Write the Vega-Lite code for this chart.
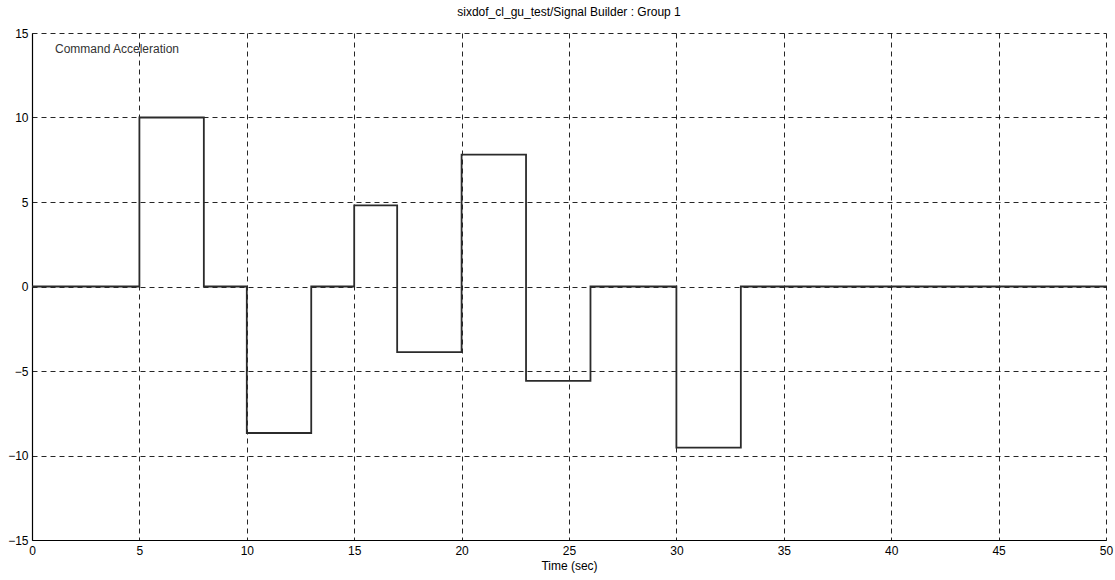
{
  "$schema": "https://vega.github.io/schema/vega-lite/v6.json",
  "width": 1074,
  "height": 507,
  "autosize": {"type": "none"},
  "padding": {"left": 32, "top": 33, "right": 9, "bottom": 40},
  "background": "white",
  "title": {
    "text": "sixdof_cl_gu_test/Signal Builder : Group 1",
    "font": "Liberation Sans",
    "fontSize": 12,
    "fontWeight": "normal",
    "color": "#000",
    "anchor": "middle",
    "offset": 8
  },
  "config": {
    "view": {"stroke": null},
    "axis": {
      "labelFont": "Liberation Sans",
      "titleFont": "Liberation Sans",
      "labelFontSize": 12,
      "titleFontSize": 12,
      "titleFontWeight": "normal",
      "labelColor": "#000",
      "titleColor": "#000",
      "domainColor": "#000",
      "domainWidth": 1.2,
      "grid": true,
      "gridColor": "#000",
      "gridDash": [5, 4],
      "gridOpacity": 0.85,
      "gridWidth": 1,
      "ticks": false
    }
  },
  "datasets": {
    "signal": [
      {"t": 0, "a": 0},
      {"t": 5, "a": 10},
      {"t": 8, "a": 0},
      {"t": 10, "a": -8.67},
      {"t": 13, "a": 0},
      {"t": 15, "a": 4.8},
      {"t": 17, "a": -3.88},
      {"t": 20, "a": 7.8},
      {"t": 23, "a": -5.58},
      {"t": 26, "a": 0},
      {"t": 30, "a": -9.53},
      {"t": 33, "a": 0},
      {"t": 50, "a": 0}
    ],
    "label": [
      {"t": 1.07, "a": 14.05, "text": "Command Acceleration"}
    ]
  },
  "layer": [
    {
      "data": {"name": "signal"},
      "mark": {"type": "line", "interpolate": "step-after", "color": "#2b2b2b", "strokeWidth": 1.8},
      "encoding": {
        "x": {
          "field": "t", "type": "quantitative",
          "scale": {"domain": [0, 50], "nice": false},
          "axis": {"values": [0,5,10,15,20,25,30,35,40,45,50], "title": "Time (sec)", "labelPadding": 5, "titlePadding": 4, "labelFlush": false}
        },
        "y": {
          "field": "a", "type": "quantitative",
          "scale": {"domain": [-15, 15], "nice": false},
          "axis": {"values": [-15,-10,-5,0,5,10,15], "title": null, "labelPadding": 4}
        }
      }
    },
    {
      "data": {"name": "label"},
      "mark": {"type": "text", "align": "left", "baseline": "middle", "font": "Liberation Sans", "fontSize": 12, "color": "#333"},
      "encoding": {
        "x": {"field": "t", "type": "quantitative"},
        "y": {"field": "a", "type": "quantitative"},
        "text": {"field": "text"}
      }
    }
  ]
}
